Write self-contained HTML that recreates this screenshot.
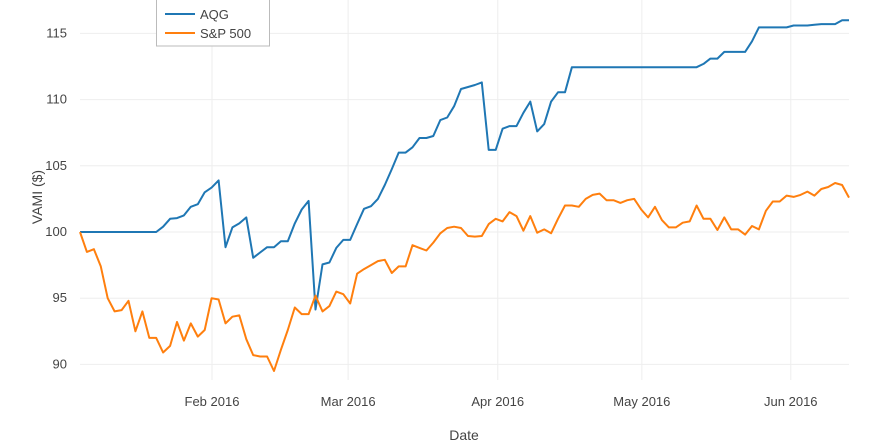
<!DOCTYPE html>
<html><head><meta charset="utf-8"><style>
body{margin:0;background:#fff;}
svg{display:block;font-family:"Liberation Sans",sans-serif;}
</style></head><body>
<svg id="chart" width="880" height="444"></svg>
<script>
const tickLabels=["Feb 2016","Mar 2016","Apr 2016","May 2016","Jun 2016"];
const tickIndex=[19.05,38.7,60.3,81.1,102.6];
const yTicks=[90,95,100,105,110,115];
const aqg=[100,100,100,100,100,100,100,100,100,100,100,100,
100.4,101.0,101.05,101.25,101.9,102.1,103.0,103.35,103.9,98.85,100.35,100.65,101.1,98.05,98.45,98.85,98.85,99.3,99.3,100.65,101.7,102.35,94.15,97.55,97.7,98.8,99.4,99.4,
100.6,101.75,101.95,102.5,103.55,104.75,106.0,106.0,106.4,107.1,107.1,107.25,108.45,108.65,109.5,110.8,110.95,111.1,111.3,106.2,106.2,107.8,108.0,108.0,109.0,109.85,107.6,108.15,109.85,110.55,110.55,
112.45,112.45,112.45,112.45,112.45,112.45,112.45,112.45,112.45,112.45,112.45,112.45,112.45,112.45,112.45,112.45,112.45,112.45,112.45,
112.7,113.1,113.1,113.6,113.6,113.6,113.6,114.4,115.45,115.45,115.45,115.45,115.45,115.6,115.6,115.6,115.65,115.7,115.7,115.7,116.0,116.0];
const spx=[100.0,98.5,98.7,97.4,95.0,94.0,94.1,94.8,92.5,94.0,92.0,92.0,90.9,91.4,93.2,91.8,93.1,92.1,92.6,95.0,94.9,93.1,93.6,93.7,91.9,90.7,90.6,90.6,89.5,91.1,92.6,94.3,93.8,93.8,95.2,94.0,94.4,95.5,95.3,94.6,
96.85,97.2,97.5,97.8,97.9,96.9,97.4,97.4,99.0,98.8,98.6,99.2,99.9,100.3,100.4,100.3,99.7,99.65,99.7,100.6,101.0,100.8,101.5,101.2,100.1,101.2,99.95,100.2,99.9,101.0,102.0,102.0,101.9,
102.5,102.8,102.9,102.4,102.4,102.2,102.4,102.5,101.7,101.1,101.9,100.9,100.35,100.35,100.7,100.8,102.0,101.0,101.0,100.15,101.1,100.2,100.2,99.8,100.45,100.2,101.6,102.3,102.3,102.75,102.65,102.8,103.05,102.75,103.25,103.4,103.7,103.55,102.6];
const NS="http://www.w3.org/2000/svg";
const svg=document.getElementById('chart');
const x0=80,x1=849,n=112;
const xs=i=>x0+i*(x1-x0)/(n-1);
const ys=v=>232-(v-100)*13.24;
function mk(tag,attrs,parent){const e=document.createElementNS(NS,tag);for(const k in attrs)e.setAttribute(k,attrs[k]);(parent||svg).appendChild(e);return e;}
yTicks.forEach(v=>{
  const l=mk('line',{x1:x0,x2:x1,y1:ys(v),y2:ys(v),stroke:'#eee','stroke-width':1});
  
  
  const t=mk('text',{x:67,y:ys(v)+4,'text-anchor':'end','font-size':13,fill:'#444'});
  t.textContent=v;
  
  
});
tickLabels.forEach((lab,k)=>{
  const x=xs(tickIndex[k]);
  const l=mk('line',{x1:x,x2:x,y1:0,y2:380,stroke:'#eee','stroke-width':1});
  
  
  const t=mk('text',{x:x,y:406,'text-anchor':'middle','font-size':13,fill:'#444'});
  t.textContent=lab;
  
  
});
function series(arr,color,name){
  const p=mk('polyline',{points:arr.map((v,i)=>xs(i).toFixed(1)+','+ys(v).toFixed(1)).join(' '),fill:'none',stroke:color,'stroke-width':2,'stroke-linejoin':'round'});
  
  
}
series(aqg,'#1f77b4','aqg-line');
series(spx,'#ff7f0e','sp500-line');
const yt=mk('text',{x:0,y:0,transform:'translate(42,197) rotate(-90)','text-anchor':'middle','font-size':14,fill:'#444'});
yt.textContent='VAMI ($)';


const xt=mk('text',{x:464,y:440,'text-anchor':'middle','font-size':14,fill:'#444'});
xt.textContent='Date';


const lg=mk('g',{});


mk('rect',{x:156.5,y:-1,width:113,height:47,fill:'#fff',stroke:'#bbb','stroke-width':1},lg);
[['AQG','#1f77b4',14],['S&P 500','#ff7f0e',33]].forEach(([lab,c,y])=>{
  const g=mk('g',{},lg);
  
  
  mk('line',{x1:165,x2:195,y1:y,y2:y,stroke:c,'stroke-width':2},g);
  const t=mk('text',{x:200,y:y+5,'font-size':13,fill:'#444'},g);
  t.textContent=lab;
});
</script>
</body></html>
